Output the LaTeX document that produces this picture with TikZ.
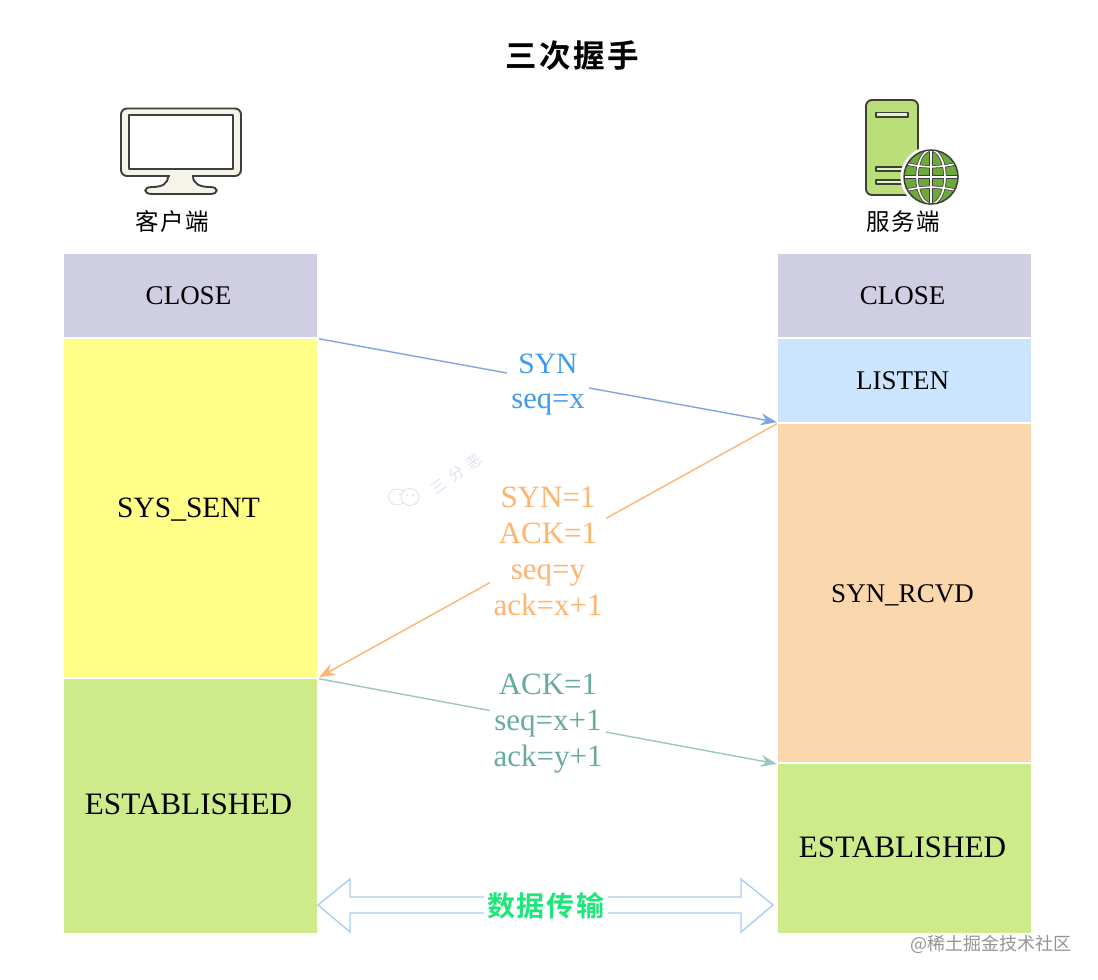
\documentclass[tikz,border=0pt]{standalone}
\usepackage{fontspec}
\setmainfont{Liberation Serif}
\newfontfamily\cjk{Noto Sans CJK SC}
\newfontfamily\cjkb{Noto Sans CJK SC Bold}
\usetikzlibrary{arrows.meta}
\definecolor{cClose}{HTML}{D0CEE2}
\definecolor{cYellow}{HTML}{FFFF88}
\definecolor{cGreen}{HTML}{CDEB8B}
\definecolor{cListen}{HTML}{CCE5FF}
\definecolor{cOrange}{HTML}{FAD7AC}
\definecolor{aBlue}{HTML}{7EA6E0}
\definecolor{aOrange}{HTML}{FFB570}
\definecolor{aGreen}{HTML}{9AC7BF}
\definecolor{tBlue}{HTML}{3D9BEF}
\definecolor{tGreen}{HTML}{67AB9F}
\definecolor{tData}{HTML}{1EE67A}
\definecolor{dbl}{HTML}{A9CDF5}
\definecolor{ink}{HTML}{3F3F3A}
\definecolor{cream}{HTML}{F6F4EA}
\definecolor{srv}{HTML}{BBDF78}
\definecolor{glb}{HTML}{6CA83C}
\definecolor{wmark}{HTML}{DCE0EC}
\tikzset{
 x=1pt,y=-1pt,
 statebox/.style={draw=none,inner sep=0pt,minimum width=253pt,text=black},
 arrowline/.style={line width=1.4pt,-{Stealth[length=16pt,width=12pt]}},
 msg/.style={fill=white,inner sep=0pt,align=center,font=\fontsize{31}{36}\selectfont},
 icon/.style={draw=ink,line width=1.9pt,line join=round},
}
\newcommand{\sz}[1]{\fontsize{#1}{#1}\selectfont}
\newcommand{\lft}[1]{\hspace*{-4pt}#1}
\begin{document}
\begin{tikzpicture}
\useasboundingbox (0,0) rectangle (1098,980);
% title
\node[inner sep=0pt] (title) at (572,56) {\cjkb\sz{31.5}三\kern2.5pt 次\kern2.5pt 握\kern2.5pt 手};
% state boxes, left
\node[statebox,fill=cClose,minimum height=83pt] (lclose) at (190.5,295.5) {\lft{\sz{27}CLOSE}};
\node[statebox,fill=cYellow,minimum height=338pt] (lsent) at (190.5,508) {};
\node[inner sep=0pt] (lsenttext) at (188.5,509.5) {\sz{29.5}SYS\_SENT};
\node[statebox,fill=cGreen,minimum height=254pt] (lest) at (190.5,806) {};
\node[inner sep=0pt] (lesttext) at (188.5,804) {\sz{31.2}ESTABLISHED};
% state boxes, right
\node[statebox,fill=cClose,minimum height=83pt] (rclose) at (904.5,295.5) {\lft{\sz{27}CLOSE}};
\node[statebox,fill=cListen,minimum height=83pt] (rlisten) at (904.5,380.5) {\lft{\sz{27}LISTEN}};
\node[statebox,fill=cOrange,minimum height=338pt] (rrcvd) at (904.5,593) {};
\node[inner sep=0pt] (rrcvdtext) at (902.5,595) {\sz{27}SYN\_RCVD};
\node[statebox,fill=cGreen,minimum height=169pt] (rest) at (904.5,848.5) {};
\node[inner sep=0pt] (resttext) at (902.5,847) {\sz{31.2}ESTABLISHED};
% connectors
\coordinate (a1) at ([xshift=2pt]lsent.north east);
\coordinate (a2) at ([xshift=-1pt]rlisten.south west);
\coordinate (b1) at ([xshift=-1pt]rrcvd.north west);
\coordinate (b2) at ([xshift=2pt]lsent.south east);
\coordinate (c1) at ([xshift=2pt]lest.north east);
\coordinate (c2) at ([xshift=-1pt]rest.north west);
\draw[arrowline,aBlue] (a1) -- (a2);
\draw[arrowline,aOrange] (b1) -- (b2);
\draw[arrowline,aGreen] (c1) -- (c2);
% labels
\node[msg,text=tBlue,minimum width=82pt] (synlbl) at (548,384) {\sz{29.5}SYN\\[-1pt]\sz{30.5}seq=x};
\node[msg,text=aOrange,minimum width=116pt] (acklbl) at (548,551.5) {SYN=1\\ACK=1\\seq=y\\ack=x+1};
\node[msg,text=tGreen,minimum width=116pt] (fin) at (548,724) {ACK=1\\seq=x+1\\ack=y+1};
% data transfer arrow
\draw[dbl,line width=1.4pt,line join=miter]
 (318,905) -- (350,879) -- (350,897) -- (741,897) -- (741,879) -- (773,905)
 -- (741,932) -- (741,913) -- (350,913) -- (350,932) -- cycle;
\node[fill=white,inner sep=0pt,minimum width=124pt,minimum height=30pt,text=tData] (data) at (546,906)
 {\cjkb\sz{28}数\kern2pt 据\kern2pt 传\kern2pt 输};
% client icon
\begin{scope}
\fill[fill=cream,draw=ink,line width=1.9pt]
 (168,176) .. controls (168,184) and (162,187) .. (152,187)
 .. controls (143,187) and (143,194) .. (152,194) -- (210,194)
 .. controls (219,194) and (219,187) .. (210,187)
 .. controls (200,187) and (193,184) .. (193,176) -- cycle;
\draw[icon,fill=cream,rounded corners=6pt] (121,108.5) rectangle (241,176);
\draw[icon,fill=white] (129,115) rectangle (233,169);
\fill[cream] (169.5,174) rectangle (191.5,178.5);
\end{scope}
\node[inner sep=0pt] (client) at (172,222) {\cjk\sz{23.5}客\kern1.5pt 户\kern1.5pt 端};
% server icon
\draw[icon,fill=srv,rounded corners=6pt] (866,100) rectangle (918,195);
\draw[icon,fill=srv!40!white,line width=1.6pt] (876,112.5) rectangle (908,117);
\draw[icon,fill=srv!40!white,line width=1.6pt] (876,167) rectangle (908,171);
\draw[icon,fill=srv!40!white,line width=1.6pt] (876,180) rectangle (908,184);
\fill[white] (931,177) circle (30.5pt);
\begin{scope}
\clip (931,177) circle (27pt);
\fill[glb] (931,177) circle (27pt);
\draw[ink,line width=3.2pt] (904,177) -- (958,177);
\draw[ink,line width=3.2pt] (931,150) -- (931,204);
\draw[ink,line width=3.2pt] (931,177) ellipse [x radius=14pt,y radius=27pt];
\draw[ink,line width=3.2pt] (904,163) .. controls (920,168) and (942,168) .. (958,163);
\draw[ink,line width=3.2pt] (904,191) .. controls (920,186) and (942,186) .. (958,191);
\draw[white,line width=1.7pt] (904,177) -- (958,177);
\draw[white,line width=1.7pt] (931,150) -- (931,204);
\draw[white,line width=1.7pt] (931,177) ellipse [x radius=14pt,y radius=27pt];
\draw[white,line width=1.7pt] (904,163) .. controls (920,168) and (942,168) .. (958,163);
\draw[white,line width=1.7pt] (904,191) .. controls (920,186) and (942,186) .. (958,191);
\end{scope}
\draw[ink,line width=1.5pt] (931,177) circle (27pt);
\node[inner sep=0pt] (server) at (903,222) {\cjk\sz{23.5}服\kern1.5pt 务\kern1.5pt 端};
% watermark
\draw[wmark,line width=0.8pt] (397,497) ellipse [x radius=8.5pt,y radius=8pt];
\draw[wmark,line width=0.8pt,fill=white] (410,497) ellipse [x radius=9pt,y radius=8.5pt];
\fill[wmark] (394,494) circle (1pt) (400,494) circle (1pt) (407,495) circle (1pt) (413,495) circle (1pt);
\node[rotate=35,text=wmark,inner sep=0pt] (wm) at (456,474) {\cjk\sz{15}三\kern7pt 分\kern7pt 恶};
% credit
\node[inner sep=0pt,text=black!42] (credit) at (991,944) {\cjk\sz{18}@稀土掘金技术社区};
\end{tikzpicture}
\end{document}
